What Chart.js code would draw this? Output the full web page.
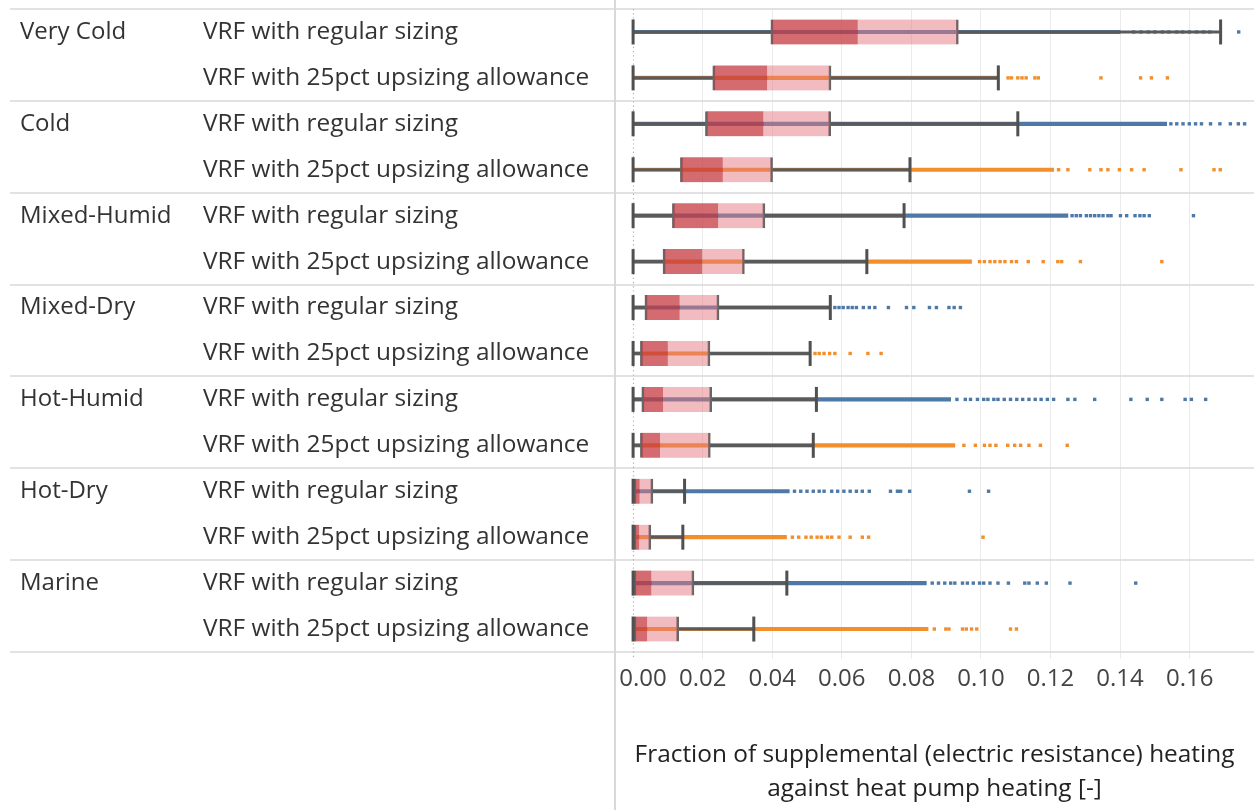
<!DOCTYPE html>
<html>
<head>
<meta charset="utf-8">
<script src="https://cdn.jsdelivr.net/npm/chart.js@4.4.0/dist/chart.umd.min.js"></script>
<style>
  html, body { margin: 0; padding: 0; background: #ffffff; }
  #wrap { width: 1254px; height: 810px; position: relative; }
</style>
</head>
<body>
<div id="wrap"><canvas id="c"></canvas></div>
<script>
// ---------- data ----------
const zones = ['Very Cold', 'Cold', 'Mixed-Humid', 'Mixed-Dry', 'Hot-Humid', 'Hot-Dry', 'Marine'];
const sizings = ['VRF with regular sizing', 'VRF with 25pct upsizing allowance'];
const xTicks = [0, 0.02, 0.04, 0.06, 0.08, 0.10, 0.12, 0.14, 0.16];
const xTickLabels = ['0.00', '0.02', '0.04', '0.06', '0.08', '0.10', '0.12', '0.14', '0.16'];
const axisTitle = ['Fraction of supplemental (electric resistance) heating', 'against heat pump heating [-]'];

// one entry per row: zone x sizing (regular, upsizing) in zone order
const whiskerLow  = [0, 0, 0, 0, 0, 0, 0, 0, 0, 0, 0, 0, 0, 0];
const q1          = [0.0396, 0.0229, 0.0208, 0.0136, 0.0113, 0.0086, 0.0034, 0.0021, 0.0025, 0.0021, 0.0002, 0.0002, 0.0002, 0.0002];
const median      = [0.0646, 0.0386, 0.0375, 0.0258, 0.0245, 0.0199, 0.0134, 0.0100, 0.0086, 0.0078, 0.0019, 0.0018, 0.0053, 0.0041];
const q3          = [0.0935, 0.0569, 0.0568, 0.0401, 0.0379, 0.0320, 0.0247, 0.0221, 0.0226, 0.0222, 0.0057, 0.0051, 0.0175, 0.0131];
const whiskerHigh = [0.1689, 0.1050, 0.1106, 0.0796, 0.0779, 0.0672, 0.0567, 0.0509, 0.0527, 0.0518, 0.0148, 0.0143, 0.0442, 0.0347];
// dense run of individual building points (drawn as a continuous strip)
const denseMax    = [0.1400, 0.1045, 0.1534, 0.1209, 0.1250, 0.0973, 0.0567, 0.0509, 0.0913, 0.0925, 0.0449, 0.0441, 0.0843, 0.0848];
// sparse individual points beyond the dense run
const sparsePoints = [
  [0.1439, 0.1460, 0.1481, 0.1500, 0.1522, 0.1540, 0.1563, 0.1580, 0.1599, 0.1620, 0.1640, 0.1658, 0.1741],
  [0.1078, 0.1088, 0.1106, 0.1118, 0.1130, 0.1155, 0.1165, 0.1345, 0.1459, 0.1490, 0.1536],
  [0.1546, 0.1563, 0.1581, 0.1599, 0.1617, 0.1634, 0.1660, 0.1687, 0.1717, 0.1740, 0.1758],
  [0.1223, 0.1250, 0.1313, 0.1345, 0.1365, 0.1398, 0.1433, 0.1469, 0.1575, 0.1670, 0.1688],
  [0.1262, 0.1274, 0.1286, 0.1303, 0.1315, 0.1327, 0.1339, 0.1351, 0.1365, 0.1374, 0.1401, 0.1419, 0.1443, 0.1457, 0.1469, 0.1484, 0.1611],
  [0.0996, 0.1010, 0.1026, 0.1040, 0.1055, 0.1069, 0.1088, 0.1102, 0.1136, 0.1179, 0.1221, 0.1232, 0.1286, 0.1520],
  [0.0580, 0.0592, 0.0604, 0.0618, 0.0630, 0.0642, 0.0662, 0.0679, 0.0695, 0.0734, 0.0786, 0.0807, 0.0852, 0.0872, 0.0908, 0.0923, 0.0941],
  [0.0523, 0.0535, 0.0549, 0.0565, 0.0580, 0.0624, 0.0675, 0.0713],
  [0.0931, 0.0955, 0.0970, 0.0990, 0.1008, 0.1020, 0.1037, 0.1049, 0.1067, 0.1085, 0.1103, 0.1120, 0.1138, 0.1156, 0.1173, 0.1191, 0.1209, 0.1250, 0.1270, 0.1327, 0.1431, 0.1478, 0.1520, 0.1587, 0.1605, 0.1646],
  [0.0951, 0.0984, 0.1010, 0.1026, 0.1043, 0.1077, 0.1097, 0.1114, 0.1138, 0.1171, 0.1248],
  [0.0464, 0.0482, 0.0500, 0.0518, 0.0535, 0.0549, 0.0571, 0.0588, 0.0606, 0.0624, 0.0642, 0.0659, 0.0679, 0.0740, 0.0760, 0.0769, 0.0795, 0.0967, 0.1022],
  [0.0458, 0.0476, 0.0497, 0.0512, 0.0529, 0.0541, 0.0559, 0.0571, 0.0592, 0.0624, 0.0659, 0.0677, 0.1006],
  [0.0860, 0.0878, 0.0896, 0.0913, 0.0925, 0.0947, 0.0961, 0.0978, 0.0996, 0.1008, 0.1026, 0.1049, 0.1079, 0.1126, 0.1138, 0.1162, 0.1188, 0.1256, 0.1445],
  [0.0866, 0.0899, 0.0908, 0.0947, 0.0958, 0.0973, 0.0988, 0.1085, 0.1102]
];

// ---------- styling ----------
const FONT = '"Open Sans", "Noto Sans", sans-serif';
const seriesColors = ['#4e79a7', '#f28e2b'];
const rows = whiskerLow.map((_, i) => i);

Chart.defaults.font.family = FONT;

const framePlugin = {
  id: 'frame',
  beforeDatasetsDraw(chart) {
    const { ctx, chartArea } = chart;
    const y = chart.scales.y, x = chart.scales.x;
    ctx.save();
    // zone separators
    ctx.strokeStyle = '#d9d9d9';
    ctx.lineWidth = 1.5;
    for (let k = 0; k <= zones.length; k++) {
      const py = Math.round(y.getPixelForValue(2 * k - 0.5));
      ctx.beginPath(); ctx.moveTo(10, py); ctx.lineTo(chart.width, py); ctx.stroke();
    }
    // divider between header and plot
    ctx.lineWidth = 2;
    ctx.beginPath(); ctx.moveTo(chartArea.left, 0); ctx.lineTo(chartArea.left, chart.height); ctx.stroke();
    // dotted zero reference line
    const px0 = Math.round(x.getPixelForValue(0)) + 0.5;
    ctx.strokeStyle = '#b0b0b0';
    ctx.lineWidth = 1.2;
    ctx.setLineDash([1.2, 3]);
    ctx.beginPath(); ctx.moveTo(px0, chartArea.top); ctx.lineTo(px0, chartArea.bottom + 6); ctx.stroke();
    ctx.restore();
  }
};

const data = {
  datasets: [
    { // whisker caps
      type: 'scatter', order: 1,
      data: rows.flatMap(i => [{ x: whiskerLow[i], y: i }, { x: whiskerHigh[i], y: i }]),
      pointStyle: 'line', pointRotation: 90, pointRadius: 12.5,
      pointBorderWidth: 3, pointBorderColor: '#505050', pointBackgroundColor: '#505050'
    },
    { // box lower half
      type: 'bar', indexAxis: 'y', grouped: false, order: 2,
      data: rows.map(i => ({ y: i, x: [q1[i], median[i]] })),
      backgroundColor: 'rgba(196,58,66,0.75)',
      borderColor: '#666666', borderWidth: { left: 2, right: 0, top: 0, bottom: 0 }, borderSkipped: false,
      barThickness: 25
    },
    { // box upper half
      type: 'bar', indexAxis: 'y', grouped: false, order: 2,
      data: rows.map(i => ({ y: i, x: [median[i], q3[i]] })),
      backgroundColor: 'rgba(228,120,128,0.5)',
      borderColor: '#666666', borderWidth: { left: 0, right: 2, top: 0, bottom: 0 }, borderSkipped: false,
      barThickness: 25
    },
    { // lower whisker
      type: 'bar', indexAxis: 'y', grouped: false, order: 3,
      data: rows.map(i => ({ y: i, x: [whiskerLow[i], q1[i]] })),
      backgroundColor: '#5a5a5a', barThickness: 2.5
    },
    { // upper whisker
      type: 'bar', indexAxis: 'y', grouped: false, order: 3,
      data: rows.map(i => ({ y: i, x: [q3[i], whiskerHigh[i]] })),
      backgroundColor: '#5a5a5a', barThickness: 2.5
    },
    { // sparse points, regular sizing
      type: 'scatter', order: 4,
      data: rows.filter(i => i % 2 === 0).flatMap(i => sparsePoints[i].map(v => ({ x: v, y: i }))),
      pointStyle: 'rect', pointRadius: 2.4, pointBorderWidth: 0, pointBackgroundColor: seriesColors[0]
    },
    { // sparse points, upsizing
      type: 'scatter', order: 4,
      data: rows.filter(i => i % 2 === 1).flatMap(i => sparsePoints[i].map(v => ({ x: v, y: i }))),
      pointStyle: 'rect', pointRadius: 2.4, pointBorderWidth: 0, pointBackgroundColor: seriesColors[1]
    },
    { // dense strip of points
      type: 'bar', indexAxis: 'y', grouped: false, order: 5,
      data: rows.map(i => ({ y: i, x: [whiskerLow[i], denseMax[i]] })),
      backgroundColor: rows.map(i => seriesColors[i % 2]), barThickness: 3.5
    }
  ]
};

new Chart(document.getElementById('c'), {
  type: 'bar',
  data,
  plugins: [framePlugin],
  options: {
    responsive: true, maintainAspectRatio: false, animation: false,
    indexAxis: 'y',
    layout: { autoPadding: false, padding: { left: 20, top: 9, right: 0, bottom: 0 } },
    plugins: { legend: { display: false }, tooltip: { enabled: false } },
    scales: {
      x: {
        type: 'linear', position: 'bottom', min: -0.0052, max: 0.1785, offset: false,
        afterBuildTicks: s => { s.ticks = xTicks.map(v => ({ value: v })); },
        ticks: {
          autoSkip: false, maxRotation: 0, padding: 6, color: '#444444',
          font: { size: 24 },
          callback: (v, idx) => (idx === 0 ? '\u2007 ' : '') + xTickLabels[idx]
        },
        grid: {
          offset: false,
          color: c => (c.tick && c.tick.value === 0) ? 'rgba(0,0,0,0)' : '#ebebeb',
          tickColor: c => (c.tick && c.tick.value === 0) ? 'rgba(0,0,0,0)' : '#ebebeb',
          lineWidth: 1, drawTicks: true, tickLength: 7
        },
        border: { display: false },
        title: {
          display: true, text: axisTitle, color: '#222222',
          font: { size: 24.4, lineHeight: 34 / 24.4 }, padding: { top: 0, bottom: 4 }
        },
        afterFit: s => { s.height = 158; s.paddingLeft = 0; s.paddingRight = 0; }
      },
      y: {
        type: 'linear', position: 'left', reverse: true, min: -0.5, max: 13.5, weight: 1,
        offset: false, bounds: 'data',
        afterBuildTicks: s => { s.ticks = rows.map(i => ({ value: i })); },
        ticks: {
          autoSkip: false, crossAlign: 'far', padding: 0, color: '#333333',
          font: { size: 24.4, lineHeight: 0.01 },
          callback: v => sizings[v % 2]
        },
        grid: { display: false, offset: false }, border: { display: false },
        afterFit: s => { s.width = 412; s.paddingTop = 0; s.paddingBottom = 0; }
      },
      y2: {
        type: 'linear', position: 'left', reverse: true, min: -0.5, max: 13.5, weight: 2,
        offset: false, bounds: 'data',
        afterBuildTicks: s => { s.ticks = zones.map((_, k) => ({ value: 2 * k })); },
        ticks: {
          autoSkip: false, crossAlign: 'far', padding: 0, color: '#333333',
          font: { size: 24, lineHeight: 0.01 },
          callback: v => zones[v / 2]
        },
        grid: { display: false, offset: false }, border: { display: false },
        afterFit: s => { s.width = 183; s.paddingTop = 0; s.paddingBottom = 0; }
      }
    }
  }
});
</script>
</body>
</html>
